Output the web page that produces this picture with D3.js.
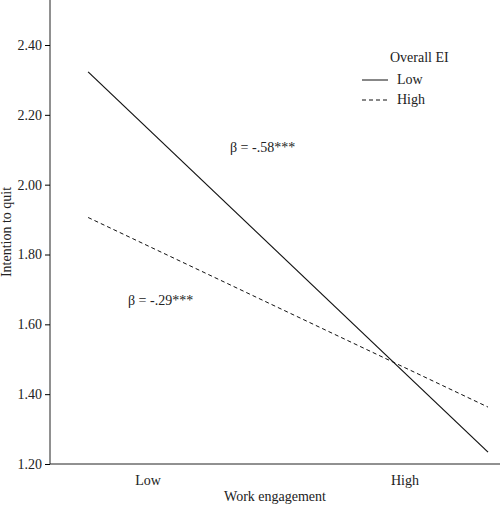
<!DOCTYPE html>
<html><head><meta charset="utf-8">
<script src="https://cdn.jsdelivr.net/npm/d3@7"></script>
<style>body{margin:0;background:#fff}text{font-family:"Liberation Serif",serif;fill:#222}</style>
</head><body><svg width="500" height="507"></svg>
<script>
const yTicks=[1.20,1.40,1.60,1.80,2.00,2.20,2.40];
const xCats=["Low","High"];
const xEnds=[-0.233,1.323];
const lowEI=[2.323,1.234];
const highEI=[1.906,1.363];
const svg=d3.select("svg");
const x=d3.scaleLinear().domain([0,1]).range([148,405]);
const y=d3.scaleLinear().domain([1.20,2.40]).range([464,45]);
svg.append("line").attr("x1",50).attr("x2",50).attr("y1",0).attr("y2",464).attr("stroke","#222");
svg.append("line").attr("x1",50).attr("x2",500).attr("y1",464).attr("y2",464).attr("stroke","#222");
const ya=svg.append("g").attr("transform","translate(50,0)").call(d3.axisLeft(y).tickValues(yTicks).tickFormat(d3.format(".2f")).tickSize(5).tickSizeOuter(0));
ya.select(".domain").remove();
ya.selectAll("text").style("font-size","14px").style("font-family","Liberation Serif");
svg.selectAll(".xl").data(xCats).join("text").attr("x",(d,i)=>x(i)).attr("y",485).attr("text-anchor","middle").style("font-size","14px").text(d=>d);
const line=d3.line().x((d,i)=>x(xEnds[i])).y(d=>y(d));
svg.append("path").attr("d",line(lowEI)).attr("fill","none").attr("stroke","#111").attr("stroke-width",1.2);
svg.append("path").attr("d",line(highEI)).attr("fill","none").attr("stroke","#111").attr("stroke-width",1).attr("stroke-dasharray","4,3");
svg.append("text").attr("x",275).attr("y",501).attr("text-anchor","middle").style("font-size","14px").text("Work engagement");
svg.append("text").attr("transform","translate(11,232) rotate(-90)").attr("text-anchor","middle").style("font-size","14px").text("Intention to quit");
svg.append("text").attr("x",390).attr("y",62).style("font-size","14px").text("Overall EI");
svg.append("line").attr("x1",362).attr("x2",388).attr("y1",80).attr("y2",80).attr("stroke","#111");
svg.append("text").attr("x",397).attr("y",84).style("font-size","14px").text("Low");
svg.append("line").attr("x1",362).attr("x2",388).attr("y1",100).attr("y2",100).attr("stroke","#111").attr("stroke-dasharray","4,3");
svg.append("text").attr("x",397).attr("y",104).style("font-size","14px").text("High");
svg.append("text").attr("x",230).attr("y",152).style("font-size","14px").text("β = -.58***");
svg.append("text").attr("x",128).attr("y",305).style("font-size","14px").text("β = -.29***");
</script></body></html>
